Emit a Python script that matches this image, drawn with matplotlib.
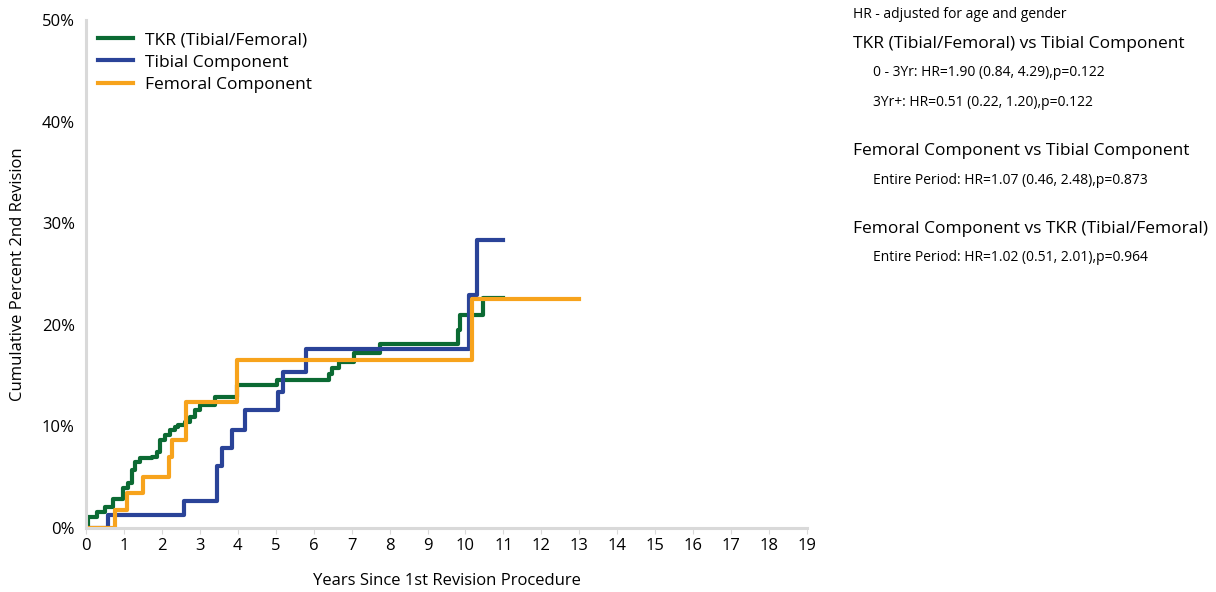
import matplotlib.pyplot as plt

plt.rcParams['font.family'] = ['Open Sans', 'DejaVu Sans']

# Step data (years, cumulative percent)
tkr_years = [0, 0.05, 0.29, 0.5, 0.71, 0.97, 1.1, 1.2, 1.3, 1.42, 1.74, 1.87, 1.95, 2.08, 2.21,
             2.34, 2.42, 2.6, 2.74, 2.87, 3.0, 3.4, 3.97, 5.03, 6.4, 6.47, 6.67, 7.05, 7.74,
             9.8, 9.85, 10.45, 11.0]
tkr_pct = [0, 1.1, 1.6, 2.1, 2.9, 3.9, 4.4, 5.7, 6.5, 6.9, 7.0, 7.5, 8.7, 9.2, 9.6,
           9.9, 10.1, 10.4, 10.9, 11.6, 12.1, 12.9, 14.1, 14.6, 15.2, 15.7, 16.3, 17.2, 18.1,
           19.5, 21.0, 22.6, 22.6]

tib_years = [0, 0.58, 2.58, 3.45, 3.58, 3.84, 4.2, 5.06, 5.2, 5.8, 10.1, 10.3, 11.0]
tib_pct = [0, 1.3, 2.7, 6.1, 7.9, 9.6, 11.6, 13.4, 15.4, 17.6, 22.9, 28.3, 28.3]

fem_years = [0, 0.76, 1.08, 1.5, 2.2, 2.26, 2.63, 3.98, 10.16, 13.0]
fem_pct = [0, 1.8, 3.4, 5.0, 7.0, 8.7, 12.4, 16.5, 22.5, 22.5]

series_names = ["TKR (Tibial/Femoral)", "Tibial Component", "Femoral Component"]
colors = ["#0b6a33", "#2a4398", "#f7a31c"]

x_ticks = list(range(0, 20))
y_ticks = [0, 10, 20, 30, 40, 50]

fig = plt.figure(figsize=(12.16, 5.92), dpi=100)
ax = fig.add_axes([0.0707, 0.1081, 0.5930, 0.8581])

ax.step(tkr_years, tkr_pct, where="post", color=colors[0], lw=3, label=series_names[0])
ax.step(tib_years, tib_pct, where="post", color=colors[1], lw=3, label=series_names[1])
ax.step(fem_years, fem_pct, where="post", color=colors[2], lw=3, label=series_names[2])

ax.set_xlim(0, 19)
ax.set_ylim(0, 50)
ax.set_xticks(x_ticks)
ax.set_yticks(y_ticks)
ax.set_yticklabels([f"{v}%" for v in y_ticks])
ax.tick_params(axis="x", length=4, color="#d9d9d9", labelsize=12, pad=3)
ax.tick_params(axis="y", length=0, labelsize=12, pad=8)

for side in ["top", "right"]:
    ax.spines[side].set_visible(False)
for side in ["left", "bottom"]:
    ax.spines[side].set_color("#d9d9d9")
    ax.spines[side].set_linewidth(2.2)

ax.set_xlabel("Years Since 1st Revision Procedure", fontsize=12, labelpad=14)
ax.set_ylabel("Cumulative Percent 2nd Revision", fontsize=12, labelpad=11)

ax.legend(loc="upper left", bbox_to_anchor=(0.0, 1.0), frameon=False, fontsize=12.5,
          handlelength=2.0, handletextpad=0.7, labelspacing=0.35, borderaxespad=0.3)

# Hazard ratio annotations
fig.text(853 / 1216, 1 - 15 / 592, "HR - adjusted for age and gender", fontsize=10, va="center")
fig.text(853 / 1216, 1 - 44 / 592, "TKR (Tibial/Femoral) vs Tibial Component", fontsize=12.5, va="center")
fig.text(873 / 1216, 1 - 73 / 592, "0 - 3Yr: HR=1.90 (0.84, 4.29),p=0.122", fontsize=10, va="center")
fig.text(873 / 1216, 1 - 102 / 592, "3Yr+: HR=0.51 (0.22, 1.20),p=0.122", fontsize=10, va="center")
fig.text(853 / 1216, 1 - 151 / 592, "Femoral Component vs Tibial Component", fontsize=12.5, va="center")
fig.text(873 / 1216, 1 - 181 / 592, "Entire Period: HR=1.07 (0.46, 2.48),p=0.873", fontsize=10, va="center")
fig.text(853 / 1216, 1 - 229 / 592, "Femoral Component vs TKR (Tibial/Femoral)", fontsize=12.5, va="center")
fig.text(873 / 1216, 1 - 258 / 592, "Entire Period: HR=1.02 (0.51, 2.01),p=0.964", fontsize=10, va="center")

fig.savefig("out.png", dpi=100)
